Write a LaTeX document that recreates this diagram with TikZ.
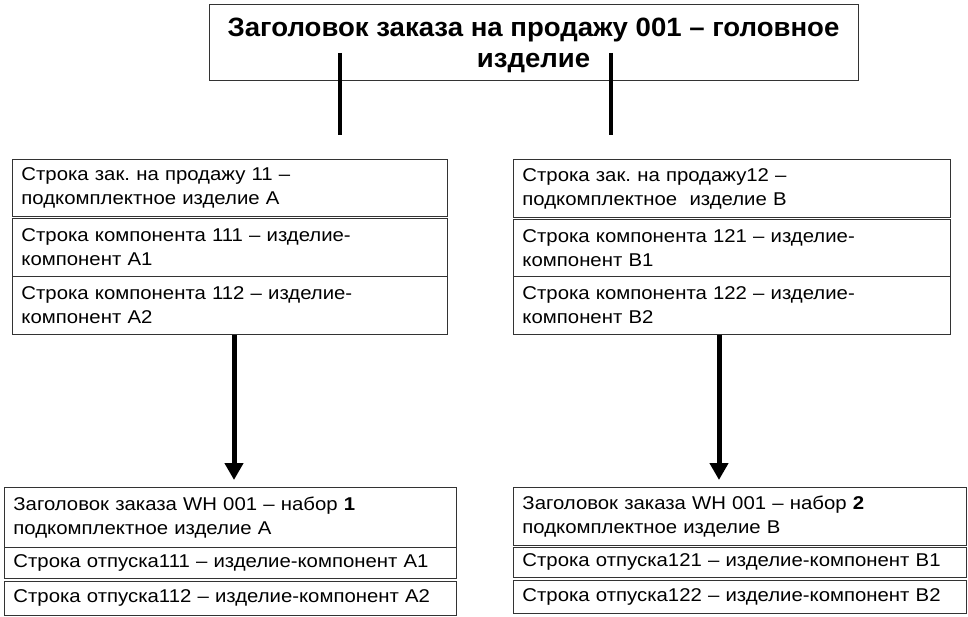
\documentclass[tikz,border=0pt]{standalone}
\usepackage{fontspec}
\setmainfont{Liberation Sans}
\newfontfamily\bodyfont{Liberation Sans}[FakeStretch=1.1]
\newfontfamily\headfont{Liberation Sans}[FakeStretch=1.04]
\usetikzlibrary{arrows.meta}
\frenchspacing
\begin{document}
\begin{tikzpicture}[x=1pt,y=-1pt,
  row/.style={draw=black!80, line width=0.9pt, rectangle, anchor=north west,
    inner xsep=9pt, inner ysep=0pt, align=left,
    font=\bodyfont\fontsize{18.5}{24}\selectfont},
  titlebox/.style={draw=black!80, line width=0.9pt, rectangle, align=center,
    inner sep=0pt, font=\headfont\bfseries\fontsize{26.5}{31}\selectfont},
  bar/.style={line width=4.5pt, black},
  arr/.style={line width=5pt, black, -{Triangle[width=18pt,length=17pt]}, shorten >=7pt}]
\useasboundingbox (0,0) rectangle (968,617);

\node[titlebox, minimum width=649pt, minimum height=76pt] (title) at (533.5,42)
  {\rule{0pt}{26pt}Заголовок заказа на продажу 001 – головное\\изделие};

% left middle
\node[row, minimum width=435pt, text width=417pt, minimum height=57pt] (L1) at (12,159)
  {Строка зак. на продажу 11 –\\подкомплектное изделие А};
\node[row, minimum width=435pt, text width=417pt, minimum height=58pt] (L2) at (12,218)
  {Строка компонента 111 – изделие-\\компонент А1};
\node[row, minimum width=435pt, text width=417pt, minimum height=58pt] (L3) at (12,276)
  {Строка компонента 112 – изделие-\\компонент А2};

% right middle
\node[row, minimum width=437pt, text width=419pt, minimum height=58pt] (R1) at (513,159)
  {Строка зак. на продажу12 –\\подкомплектное~ изделие В};
\node[row, minimum width=437pt, text width=419pt, minimum height=57pt] (R2) at (513,219)
  {Строка компонента 121 – изделие-\\компонент В1};
\node[row, minimum width=437pt, text width=419pt, minimum height=58pt] (R3) at (513,276)
  {Строка компонента 122 – изделие-\\компонент В2};

% bottom left
\node[row, minimum width=452pt, text width=434pt, minimum height=60pt] (BL1) at (4,487)
  {Заголовок заказа WH 001 – набор \textbf{1}\\подкомплектное изделие А};
\node[row, minimum width=452pt, text width=434pt, minimum height=31pt] (BL2) at (4,547)
  {Строка отпуска111 – изделие-компонент А1};
\node[row, minimum width=452pt, text width=434pt, minimum height=34pt] (BL3) at (4,581)
  {Строка отпуска112 – изделие-компонент А2};

% bottom right
\node[row, minimum width=453pt, text width=435pt, minimum height=58pt] (BR1) at (513,487)
  {Заголовок заказа WH 001 – набор \textbf{2}\\подкомплектное изделие В};
\node[row, minimum width=453pt, text width=435pt, minimum height=30pt] (BR2) at (513,547)
  {Строка отпуска121 – изделие-компонент В1};
\node[row, minimum width=453pt, text width=435pt, minimum height=33pt] (BR3) at (513,580)
  {Строка отпуска122 – изделие-компонент В2};

% bars from the title
\coordinate (b1a) at (340,53);
\coordinate (b1b) at (340,135);
\coordinate (b2a) at (611,53);
\coordinate (b2b) at (611,135);
\draw[bar] (b1a) -- (b1b);
\draw[bar] (b2a) -- (b2b);

% arrows
\coordinate (axL) at (234,400);
\coordinate (axR) at (719,400);
\draw[arr] (L3.south -| axL) -- (BL1.north -| axL);
\draw[arr] (R3.south -| axR) -- (BR1.north -| axR);
\end{tikzpicture}
\end{document}
